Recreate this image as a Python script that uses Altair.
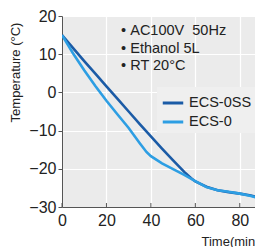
import altair as alt
import pandas as pd

# data
time_ss = [0, 5, 10, 15, 20, 25, 30, 35, 40, 45, 50, 55, 58, 60, 65, 70, 75, 80, 85, 90]
temp_ss = [15, 11.6, 8.2, 4.9, 1.6, -1.7, -5.0, -8.3, -11.5, -14.7, -17.8, -20.8, -22.4, -23.3, -24.7, -25.6, -26.1, -26.5, -27.0, -27.8]
time_0 = [0, 5, 10, 15, 20, 25, 30, 35, 38, 40, 45, 50, 55, 60, 65, 70, 75, 80, 85, 90]
temp_0 = [15, 10.2, 5.8, 1.7, -2.2, -5.8, -9.3, -13.3, -15.6, -16.7, -18.6, -20.1, -21.6, -23.2, -24.8, -25.6, -26.0, -26.5, -27.1, -27.9]
series = ["ECS-0SS", "ECS-0"]
colors = ["#1b5ba6", "#2d9ee3"]
notes = ["\u2022\u00a0AC100V\u00a0\u00a050Hz", "\u2022\u00a0Ethanol 5L", "\u2022\u00a0RT 20°C"]
note_x = [26.6, 26.6, 26.6]
note_y = [16.0, 11.3, 6.8]
x_ticks = [0, 20, 40, 60, 80]
y_ticks = [-30, -20, -10, 0, 10, 20]

df = pd.DataFrame(
    [{"t": t, "T": v, "s": series[0]} for t, v in zip(time_ss, temp_ss)]
    + [{"t": t, "T": v, "s": series[1]} for t, v in zip(time_0, temp_0)]
)
notes_df = pd.DataFrame({"t": note_x, "T": note_y, "text": notes})
ticks_df = pd.DataFrame({"t": x_ticks})

FONT = "Liberation Sans"

x_scale = alt.Scale(domain=[0, 90], nice=False, zero=False)
y_scale = alt.Scale(domain=[-30, 20], nice=False, zero=False)

x_axis = alt.Axis(values=x_ticks, title="Time(min)", titleAlign="right",
                  titleAnchor="end", titleX=197, titleY=28, titleFontSize=13,
                  titleFontWeight="normal", labelFontSize=16, tickSize=0,
                  labelPadding=5, domainColor="#555555", gridColor="#ffffff",
                  gridWidth=1.2, labelFlush=False, labelOverlap=False)
y_axis = alt.Axis(values=y_ticks, title="Temperature (°C)", titleFontSize=13,
                  titleFontWeight="normal", titleX=-40, titleY=56,
                  titleAlign="center", labelFontSize=16, tickSize=4,
                  tickColor="#555555", labelPadding=2, domainColor="#555555",
                  gridColor="#ffffff", gridWidth=1.2, labelOverlap=False,
                  labelFlush=False)

X = alt.X("t:Q", scale=x_scale, axis=x_axis, title="Time(min)")
Y = alt.Y("T:Q", scale=y_scale, axis=y_axis, title="Temperature (°C)")

lines = alt.Chart(df).mark_line(strokeWidth=2.6, clip=True).encode(
    x=X, y=Y,
    color=alt.Color("s:N", scale=alt.Scale(domain=series, range=colors),
                    legend=alt.Legend(title=None, orient="none", legendX=95, legendY=71,
                                      symbolType="stroke", symbolSize=420,
                                      symbolStrokeWidth=3, labelFontSize=14.5,
                                      labelFont=FONT, rowPadding=0, labelOffset=4,
                                      labelColor="#222222",
                                      fillColor="#efefef", padding=4)),
    detail="s:N",
)

text = alt.Chart(notes_df).mark_text(align="left", baseline="middle", fontSize=14.5,
                                     font=FONT, color="#222222").encode(
    x=X, y=Y, text="text:N")

ticks = alt.Chart(ticks_df).mark_rule(color="#555555", strokeWidth=1).encode(
    x=X, y=alt.value(191), y2=alt.value(187))

chart = alt.layer(lines, text, ticks).properties(
    width=200, height=191,
    padding={"left": 54, "top": 8, "right": -7, "bottom": 40},
    autosize=alt.AutoSizeParams(type="none"),
).configure_view(fill="#ebebeb", stroke=None).configure_axis(
    labelFont=FONT, titleFont=FONT, labelColor="#222222", titleColor="#222222"
)

chart.save("out.html", embed_options={"renderer": "svg", "actions": False})
